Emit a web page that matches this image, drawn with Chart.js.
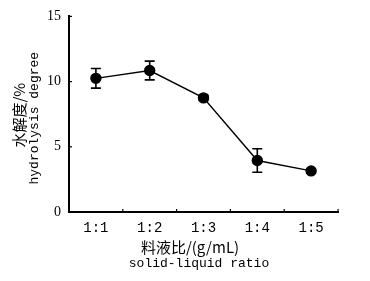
<!DOCTYPE html>
<html>
<head>
<meta charset="utf-8">
<script src="https://cdn.jsdelivr.net/npm/chart.js@4/dist/chart.umd.min.js"></script>
<style>
html,body{margin:0;padding:0;background:#fff;}
#wrap{width:370px;height:281px;}
</style>
</head>
<body>
<div id="wrap"><canvas id="c" width="370" height="281"></canvas></div>
<script>
const categories = ['1:1', '1:2', '1:3', '1:4', '1:5'];
const hydrolysis = [10.25, 10.85, 8.75, 3.95, 3.15];
const errors = [0.75, 0.72, 0.2, 0.9, 0.15];
const yTicks = [0, 5, 10, 15];
const yTitleLines = ['水解度/%', 'hydrolysis degree'];
const xTitleLines = ['料液比/(g/mL)', 'solid-liquid ratio'];

const errorBars = {
  id: 'errorBars',
  afterDatasetsDraw(chart) {
    const ctx = chart.ctx, xs = chart.scales.x, ys = chart.scales.y;
    ctx.save();
    ctx.strokeStyle = '#000';
    ctx.lineWidth = 1.6;
    hydrolysis.forEach((v, i) => {
      const x = xs.getPixelForValue(i);
      const yt = ys.getPixelForValue(v + errors[i]);
      const yb = ys.getPixelForValue(v - errors[i]);
      ctx.beginPath();
      ctx.moveTo(x, yt); ctx.lineTo(x, yb);
      ctx.moveTo(x - 5, yt); ctx.lineTo(x + 5, yt);
      ctx.moveTo(x - 5, yb); ctx.lineTo(x + 5, yb);
      ctx.stroke();
    });
    ctx.restore();
  }
};

const decor = {
  id: 'decor',
  afterDraw(chart) {
    const ctx = chart.ctx, xs = chart.scales.x, ys = chart.scales.y;
    const a = chart.chartArea;
    ctx.save();
    ctx.strokeStyle = '#000';
    ctx.lineWidth = 1.2;
    yTicks.forEach(t => {
      const y = ys.getPixelForValue(t);
      ctx.beginPath(); ctx.moveTo(a.left, y); ctx.lineTo(a.left + 3, y); ctx.stroke();
    });
    const half = (xs.getPixelForValue(1) - xs.getPixelForValue(0)) / 2;
    for (let i = 0; i < categories.length; i++) {
      const x = xs.getPixelForValue(i) + half;
      ctx.beginPath(); ctx.moveTo(x, a.bottom); ctx.lineTo(x, a.bottom - 3); ctx.stroke();
    }
    ctx.fillStyle = '#000';
    ctx.textAlign = 'center';
    ctx.textBaseline = 'middle';
    const cy = (a.top + a.bottom) / 2;
    ctx.save();
    ctx.translate(19, cy + 1);
    ctx.rotate(-Math.PI / 2);
    ctx.font = '15px "Noto Sans CJK SC"';
    ctx.fillText(yTitleLines[0], 0, 0);
    ctx.restore();
    ctx.save();
    ctx.translate(35, cy + 4);
    ctx.rotate(-Math.PI / 2);
    ctx.font = '13px "Liberation Mono"';
    ctx.fillText(yTitleLines[1], 0, 0);
    ctx.restore();
    ctx.font = '15px "Noto Sans CJK SC"';
    ctx.fillText(xTitleLines[0], 190, 247);
    ctx.font = '13px "Liberation Mono"';
    ctx.fillText(xTitleLines[1], 199, 264);
    ctx.restore();
  }
};

new Chart(document.getElementById('c'), {
  type: 'line',
  data: {
    labels: categories,
    datasets: [{
      data: hydrolysis,
      borderColor: '#000',
      backgroundColor: '#000',
      borderWidth: 1.4,
      pointRadius: 5,
      pointStyle: 'circle',
      pointBackgroundColor: '#000',
      pointBorderColor: '#000',
      tension: 0
    }]
  },
  options: {
    responsive: false,
    animation: false,
    devicePixelRatio: 1,
    layout: { padding: { top: 16, right: 32, left: 0, bottom: 0 } },
    plugins: { legend: { display: false }, tooltip: { enabled: false } },
    scales: {
      x: {
        type: 'category',
        offset: true,
        grid: { display: false, drawTicks: false, offset: true },
        border: { display: true, color: '#000', width: 2 },
        ticks: { color: '#000', padding: 8, font: { family: '"Liberation Mono"', size: 14 } },
        afterFit(s) { s.height = 69; }
      },
      y: {
        min: 0, max: 15,
        afterBuildTicks(s) { s.ticks = yTicks.map(v => ({ value: v })); },
        grid: { display: false, drawTicks: false },
        border: { display: true, color: '#000', width: 2 },
        ticks: { color: '#000', padding: 8, font: { family: '"Liberation Serif"', size: 14 } },
        afterFit(s) { s.width = 69; }
      }
    }
  },
  plugins: [errorBars, decor]
});
</script>
</body>
</html>
